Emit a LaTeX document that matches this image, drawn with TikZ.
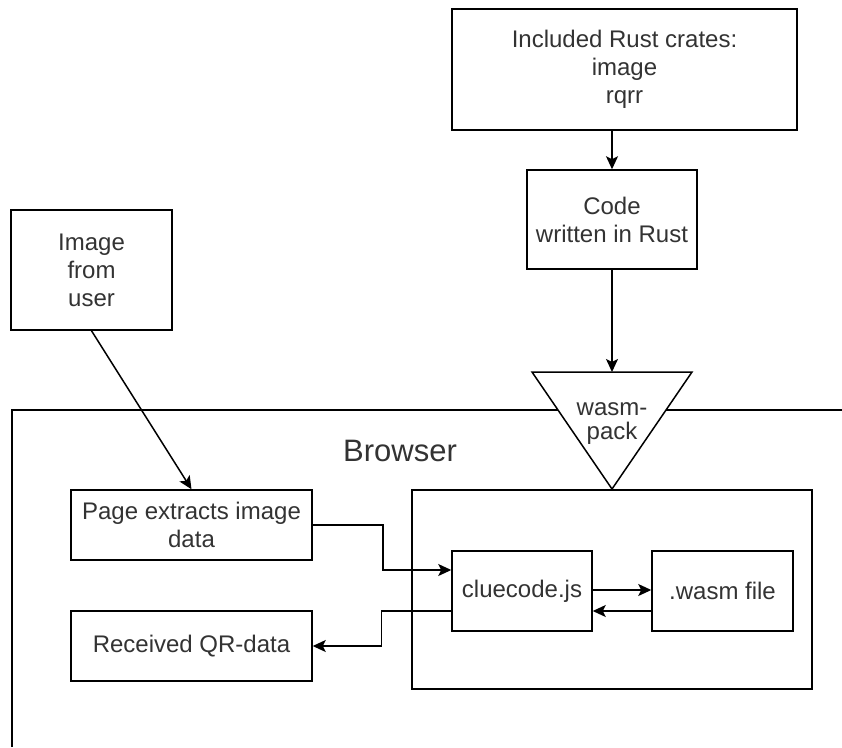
\documentclass[tikz,border=0pt]{standalone}
\usepackage{fontspec}
\setmainfont{Liberation Sans}
\usetikzlibrary{arrows.meta}
\begin{document}
\begin{tikzpicture}[x=1pt,y=-1pt,
  every node/.style={font=\fontsize{24}{28}\selectfont, text=black!80},
  box/.style={draw=black, line width=1.5pt, fill=white, align=center, inner sep=0pt},
  line/.style={draw=black, line width=1.5pt},
  arr/.style={line, -{Stealth[length=13pt, width=12pt, inset=3pt]}}]
\useasboundingbox (0,0) rectangle (842,747);
% browser frame
\draw[line] (12,747) -- (12,410) -- (842,410);
\node (browser) at (400,451) {\fontsize{31}{35}\selectfont Browser};
% top nodes
\node[box, minimum width=345pt, minimum height=121pt] (crates) at (624.5,69.5)
  {Included Rust crates:\\image\\rqrr};
\node[box, minimum width=170pt, minimum height=99pt] (code) at (612,219.5)
  {Code\\written in Rust};
% triangle wasm-pack
\coordinate (tl) at (532,372);
\coordinate (tr) at (692,372);
\coordinate (tb) at (612,489);
\coordinate (tt) at (612,372);
\draw[line, fill=white, line join=miter] (tl) -- (tr) -- (tb) -- cycle;
\node[align=center, font=\fontsize{24}{24}\selectfont] (wp) at (612,424) {wasm-\\pack};
% left nodes
\node[box, minimum width=161pt, minimum height=120pt] (image) at (91.5,270)
  {Image\\from\\user};
\node[box, minimum width=241pt, minimum height=70pt] (page) at (191.5,525)
  {Page extracts image\\data};
\node[box, minimum width=241pt, minimum height=70pt] (recv) at (191.5,646)
  {Received QR-data};
% inner container
\node[box, minimum width=400pt, minimum height=199pt] (inner) at (612,589.5) {};
\node[box, minimum width=140pt, minimum height=80pt] (clue) at (522,591) {cluecode.js};
\node[box, minimum width=141pt, minimum height=80pt] (wasm) at (722.5,591) {.wasm file};
% connectors
\draw[arr] (code.north |- crates.south) -- (code.north);
\draw[arr] (code.south) -- (tt);
\draw[arr] (image.south) -- (page.north);
\draw[arr] (page.east) -- ++(70,0) |- ([yshift=21pt]clue.west);
\draw[arr] ([yshift=-20pt]clue.west) -- ++(-70,0) |- (recv.east);
\draw[arr] ([yshift=1pt]clue.east) -- ([yshift=1pt]wasm.west);
\draw[arr] ([yshift=-20pt]wasm.west) -- ([yshift=-20pt]clue.east);
\end{tikzpicture}
\end{document}
